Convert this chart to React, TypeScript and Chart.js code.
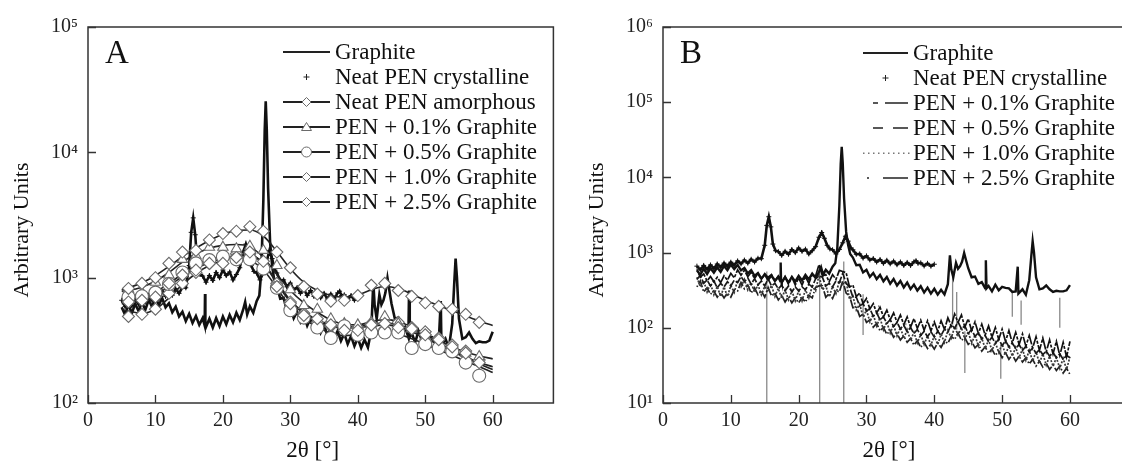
import React, { useEffect, useRef } from 'react';
import { Chart, registerables } from 'chart.js';

Chart.register(...registerables);

const FONT = '"Liberation Serif", "Times New Roman", "DejaVu Serif", serif';

// ---------- axes ----------
const X_TICKS = [0, 10, 20, 30, 40, 50, 60];
const X_TICK_LABELS = ['0', '10', '20', '30', '40', '50', '60'];
const Y_TICKS_A = [100, 1000, 10000, 100000];
const Y_TICK_LABELS_A = ['10²', '10³', '10⁴', '10⁵'];
const Y_TICKS_B = [10, 100, 1000, 10000, 100000, 1000000];
const Y_TICK_LABELS_B = ['10¹', '10²', '10³', '10⁴', '10⁵', '10⁶'];
const X_TITLE = '2θ [°]';
const Y_TITLE = 'Arbitrary Units';

const LABELS_A = ['Graphite', 'Neat PEN crystalline', 'Neat PEN amorphous', 'PEN + 0.1% Graphite', 'PEN + 0.5% Graphite', 'PEN + 1.0% Graphite', 'PEN + 2.5% Graphite'];
const LABELS_B = ['Graphite', 'Neat PEN crystalline', 'PEN + 0.1% Graphite', 'PEN + 0.5% Graphite', 'PEN + 1.0% Graphite', 'PEN + 2.5% Graphite'];

// ---------- raw graphite pattern ----------
const GRAPHITE_X = [5, 5.5, 6, 6.5, 7, 7.5, 8, 8.5, 9, 9.5, 10, 10.5, 11, 11.5, 12, 12.5, 13, 13.5, 14, 14.5, 15, 15.5, 16, 16.5, 17, 17.3, 17.35, 17.4, 17.5, 18, 18.5, 19, 19.5, 20, 20.5, 21, 21.5, 22, 22.5, 23, 23.3, 23.6, 24, 24.5, 25, 25.4, 25.7, 26.0, 26.2, 26.35, 26.5, 26.7, 27.0, 27.3, 27.6, 28, 28.5, 29, 29.5, 30, 30.5, 31, 31.5, 32, 32.5, 33, 33.5, 34, 34.5, 35, 35.5, 36, 36.5, 37, 37.5, 38, 38.5, 39, 39.5, 40, 40.5, 41, 41.5, 42, 42.3, 42.5, 42.8, 43.2, 43.5, 43.8, 44.1, 44.4, 44.7, 45, 45.5, 46, 46.5, 47, 47.5, 47.6, 47.7, 48, 48.5, 49, 49.5, 50, 50.5, 51, 51.5, 52, 52.3, 52.4, 53, 53.5, 54, 54.3, 54.5, 54.7, 55, 55.5, 56, 56.5, 57, 57.5, 58, 58.5, 59, 59.5, 60];
const GRAPHITE_Y = [580, 505, 610, 520, 620, 540, 635, 555, 665, 585, 695, 605, 685, 580, 625, 530, 585, 490, 535, 450, 515, 435, 495, 420, 475, 415, 740, 440, 405, 470, 400, 475, 410, 490, 425, 505, 440, 525, 460, 555, 640, 510, 590, 525, 650, 720, 1150, 4200, 15000, 25500, 15500, 5200, 1900, 1250, 960, 860, 680, 690, 545, 590, 475, 535, 445, 505, 415, 475, 385, 445, 365, 420, 345, 400, 327, 375, 313, 358, 295, 342, 285, 330, 276, 320, 278, 380, 920, 600, 470, 730, 610, 660, 760, 990, 780, 620, 470, 480, 385, 405, 335, 790, 335, 360, 305, 375, 315, 350, 340, 335, 300, 305, 650, 285, 325, 275, 430, 900, 1420, 1000, 470, 325, 335, 365, 325, 300, 310, 305, 305, 315, 370];

// ---------- raw neat PEN crystalline pattern ----------
const CRYST_X = [5, 5.5, 6, 6.5, 7, 7.5, 8, 8.5, 9, 9.5, 10, 10.5, 11, 11.5, 12, 12.5, 13, 13.5, 14, 14.5, 15, 15.3, 15.6, 15.9, 16.2, 16.6, 17, 17.5, 18, 18.5, 19, 19.5, 20, 20.5, 21, 21.5, 22, 22.5, 23, 23.4, 23.8, 24.2, 24.6, 25, 25.5, 26, 26.5, 26.9, 27.3, 27.7, 28, 28.5, 29, 29.5, 30, 30.5, 31, 31.5, 32, 32.5, 33, 33.5, 34, 34.5, 35, 35.5, 36, 36.5, 37, 37.3, 37.6, 38, 38.5, 39, 39.5, 40];
const CRYST_Y = [660, 590, 675, 600, 685, 615, 705, 640, 725, 660, 745, 680, 775, 710, 795, 725, 815, 750, 840, 830, 1250, 2300, 3000, 2200, 1300, 1060, 1030, 920, 1040, 950, 1100, 1000, 1150, 1040, 1110, 960, 1060, 1200, 1600, 1850, 1550, 1250, 1120, 1090, 960, 1100, 1350, 1650, 1420, 1150, 1090, 950, 960, 845, 905, 800, 835, 750, 810, 720, 790, 710, 770, 690, 750, 675, 740, 675, 755, 780, 720, 730, 665, 720, 660, 700];

// ---------- panel A: smoothed amorphous halos + sampled points ----------
const FIT_X = [5, 6, 8, 10, 12, 14, 16, 18, 20, 22, 24, 26, 28, 30, 32, 34, 36, 38, 40, 42, 44, 46, 48, 50, 52, 54, 56, 58, 60];
const FIT_AMORPH = [560, 540, 520, 560, 690, 880, 1080, 1250, 1380, 1480, 1500, 1300, 930, 660, 530, 460, 420, 405, 410, 425, 435, 420, 385, 340, 300, 265, 235, 210, 195];
const FIT_G01 = [780, 790, 840, 940, 1100, 1330, 1550, 1720, 1810, 1840, 1760, 1450, 1060, 790, 630, 530, 460, 425, 420, 445, 465, 445, 405, 355, 315, 280, 255, 238, 225];
const FIT_G05 = [680, 690, 715, 770, 900, 1070, 1260, 1400, 1460, 1450, 1380, 1150, 830, 580, 470, 405, 360, 345, 350, 365, 370, 355, 325, 295, 265, 240, 215, 195, 175];
const FIT_G10 = [620, 630, 650, 720, 860, 1020, 1180, 1320, 1420, 1500, 1520, 1300, 900, 640, 520, 450, 410, 395, 400, 410, 420, 405, 370, 330, 290, 258, 230, 205, 185];
const FIT_G25 = [800, 830, 910, 1040, 1230, 1470, 1720, 1980, 2220, 2380, 2400, 2150, 1620, 1180, 920, 790, 720, 700, 730, 800, 850, 820, 740, 660, 600, 545, 495, 450, 415];

const MARK_X = [6, 8, 10, 12, 14, 16, 18, 20, 22, 24, 26, 28, 30, 32, 34, 36, 38, 40, 42, 44, 46, 48, 50, 52, 54, 56, 58];
const MARK_AMORPH = [490, 510, 560, 750, 900, 1100, 1300, 1400, 1550, 1550, 1250, 900, 640, 520, 440, 410, 380, 400, 430, 390, 440, 400, 370, 330, 290, 260, 220];
const MARK_G01 = [810, 760, 920, 1050, 1400, 1500, 1750, 1750, 1700, 1780, 1650, 1250, 800, 600, 560, 470, 430, 420, 440, 490, 430, 390, 340, 300, 270, 250, 235];
const MARK_G05 = [700, 710, 760, 890, 1100, 1300, 1380, 1470, 1400, 1400, 1180, 830, 550, 480, 400, 330, 410, 350, 365, 365, 365, 275, 295, 275, 258, 210, 165];
const MARK_G10 = [640, 660, 700, 900, 1050, 1150, 1300, 1300, 1450, 1600, 1350, 850, 620, 500, 470, 420, 380, 380, 420, 430, 400, 390, 350, 320, 280, 250, 210];
const MARK_G25 = [820, 900, 1000, 1300, 1600, 1650, 2000, 2250, 2350, 2550, 2350, 1600, 1200, 850, 740, 650, 660, 720, 870, 900, 790, 710, 630, 590, 560, 510, 440];

// ---------- panel B: raw composite patterns ----------
const COMP_X = [5, 5.5, 6, 6.5, 7, 7.5, 8, 8.5, 9, 9.5, 10, 10.5, 11, 11.5, 12, 12.5, 13, 13.5, 14, 14.5, 15, 15.5, 16, 16.5, 17, 17.5, 18, 18.5, 19, 19.5, 20, 20.5, 21, 21.5, 22, 22.5, 23, 23.5, 24, 24.5, 25, 25.5, 26, 26.5, 27, 27.5, 28, 28.5, 29, 29.5, 30, 30.5, 31, 31.5, 32, 32.5, 33, 33.5, 34, 34.5, 35, 35.5, 36, 36.5, 37, 37.5, 38, 38.5, 39, 39.5, 40, 40.5, 41, 41.5, 42, 42.5, 43, 43.5, 44, 44.5, 45, 45.5, 46, 46.5, 47, 47.5, 48, 48.5, 49, 49.5, 50, 50.5, 51, 51.5, 52, 52.5, 53, 53.5, 54, 54.5, 55, 55.5, 56, 56.5, 57, 57.5, 58, 58.5, 59, 59.5, 60];
const COMP_G01 = [600, 470, 520, 420, 480, 410, 470, 400, 490, 430, 530, 460, 590, 500, 580, 480, 550, 450, 530, 440, 520, 470, 510, 420, 490, 390, 480, 380, 470, 370, 460, 370, 480, 390, 510, 490, 690, 490, 510, 410, 510, 440, 580, 560, 540, 350, 370, 260, 290, 210, 245, 178, 210, 158, 188, 140, 172, 128, 158, 118, 148, 110, 140, 102, 133, 98, 126, 93, 124, 91, 120, 90, 124, 95, 136, 106, 152, 118, 148, 102, 132, 92, 120, 84, 112, 80, 106, 75, 101, 70, 96, 66, 92, 63, 87, 60, 83, 57, 79, 54, 76, 50, 73, 48, 69, 45, 66, 43, 64, 41, 66];
const COMP_G05 = [440, 500, 390, 430, 360, 420, 340, 390, 350, 410, 360, 430, 400, 480, 410, 460, 380, 450, 370, 420, 360, 450, 360, 390, 330, 370, 310, 360, 300, 350, 310, 350, 320, 380, 350, 450, 490, 470, 360, 390, 350, 420, 400, 530, 390, 350, 255, 255, 195, 210, 166, 180, 142, 158, 128, 140, 115, 128, 104, 118, 97, 108, 89, 101, 84, 95, 79, 90, 76, 89, 75, 90, 79, 96, 88, 110, 99, 120, 97, 106, 84, 95, 77, 86, 71, 79, 65, 75, 62, 71, 58, 67, 56, 63, 53, 60, 50, 57, 48, 54, 46, 51, 44, 49, 42, 47, 40, 45, 38, 43, 40];
const COMP_G10 = [470, 350, 420, 300, 390, 275, 355, 260, 350, 260, 365, 295, 430, 350, 440, 320, 400, 295, 375, 275, 355, 300, 365, 260, 335, 245, 320, 236, 310, 228, 310, 228, 320, 250, 355, 310, 500, 320, 365, 258, 355, 285, 420, 375, 410, 240, 265, 172, 206, 140, 172, 120, 151, 106, 136, 94, 120, 85, 110, 78, 101, 73, 94, 68, 87, 63, 82, 60, 78, 59, 78, 60, 82, 64, 92, 73, 103, 80, 101, 70, 89, 62, 80, 57, 73, 53, 69, 50, 64, 47, 61, 44, 58, 42, 55, 40, 52, 37, 50, 36, 48, 34, 45, 32, 42, 31, 40, 29, 39, 28, 41];
const COMP_G25 = [350, 420, 300, 340, 280, 310, 255, 295, 250, 290, 255, 320, 310, 400, 330, 370, 290, 340, 275, 310, 255, 345, 265, 290, 235, 270, 220, 260, 215, 250, 215, 250, 220, 270, 250, 345, 360, 360, 255, 285, 245, 315, 300, 420, 290, 265, 185, 190, 142, 152, 118, 128, 102, 114, 91, 101, 82, 92, 75, 84, 69, 78, 64, 72, 59, 67, 55, 64, 53, 61, 52, 63, 55, 67, 62, 77, 70, 86, 68, 74, 60, 66, 54, 60, 49, 56, 46, 52, 43, 49, 40, 47, 38, 44, 36, 42, 35, 40, 33, 38, 31, 36, 30, 34, 28, 32, 27, 31, 25, 29, 24];

// drop-outs / spikes in panel B (x, upper value, lower value)
const SPIKE_B_X = [15.3, 23.1, 26.65, 29.5, 42.7, 43.3, 51.5, 52.8, 58.5, 44.5, 49.8];
const SPIKE_B_TOP = [560, 640, 760, 280, 480, 300, 300, 230, 250, 90, 60];
const SPIKE_B_BOTTOM = [1, 1, 1, 80, 110, 95, 140, 110, 100, 25, 21];
const DOT_B_X = [31.8, 35.8];
const DOT_B_TOP = [200, 130];
const DOT_B_BOTTOM = [150, 95];

// ---------- helpers ----------
const pts = (xs: number[], ys: number[]) => xs.map((x, i) => ({ x, y: ys[i] }));
const segs = (xs: number[], top: number[], bot: number[]) => {
  const out: { x: number; y: number | null }[] = [];
  xs.forEach((x, i) => {
    out.push({ x, y: top[i] }, { x, y: bot[i] }, { x, y: null });
  });
  return out;
};

const raw = (label: string, data: any, color: string, width: number, extra: any = {}) => ({
  label, data, borderColor: color, backgroundColor: color, borderWidth: width,
  pointRadius: 0, tension: 0, fill: false, ...extra,
});

const fit = (label: string, ys: number[]) => ({
  label, data: pts(FIT_X, ys), borderColor: '#222', borderWidth: 1.6, pointRadius: 0,
  cubicInterpolationMode: 'monotone', fill: false,
});

const marks = (label: string, ys: number[], style: string, r: number) => ({
  label, data: pts(MARK_X, ys), showLine: false, pointStyle: style, pointRadius: r,
  pointBorderColor: '#6a6a6a', pointBackgroundColor: '#ffffff', pointBorderWidth: 1.1,
  borderColor: '#6a6a6a', backgroundColor: '#ffffff',
});

const crystal = (label: string) => raw(label, pts(CRYST_X, CRYST_Y), '#111', 2.6, {
  pointRadius: 2.5, pointStyle: 'cross', pointBorderWidth: 1, pointBorderColor: '#111',
});

// ---------- legend / frame plugin ----------
type LegendKind = { kind: string; dash?: number[][]; marker?: string };

function drawMarker(ctx: CanvasRenderingContext2D, kind: string, cx: number, cy: number) {
  ctx.save();
  ctx.fillStyle = '#fff';
  ctx.strokeStyle = '#6a6a6a';
  ctx.lineWidth = 1;
  ctx.beginPath();
  if (kind === 'diamond') {
    ctx.moveTo(cx, cy - 4.5); ctx.lineTo(cx + 4.5, cy); ctx.lineTo(cx, cy + 4.5); ctx.lineTo(cx - 4.5, cy); ctx.closePath();
  } else if (kind === 'triangle') {
    ctx.moveTo(cx, cy - 4.5); ctx.lineTo(cx + 5, cy + 3.5); ctx.lineTo(cx - 5, cy + 3.5); ctx.closePath();
  } else {
    ctx.arc(cx, cy, 5, 0, Math.PI * 2);
  }
  ctx.fill();
  ctx.stroke();
  ctx.restore();
}

function makePlugin(cfg: any) {
  return {
    id: 'panelDecor' + cfg.letter,
    afterDatasetsDraw(chart: any) {
      const { ctx, chartArea } = chart;
      const { left, right, top, bottom } = chartArea;
      const xs = chart.scales.x;
      const ys = chart.scales.y;
      ctx.save();
      ctx.strokeStyle = '#333';
      ctx.lineWidth = 1.5;
      ctx.strokeRect(left, top, right - left, bottom - top);
      ctx.lineWidth = 1.3;
      ctx.beginPath();
      X_TICKS.forEach((v) => {
        const px = Math.round(xs.getPixelForValue(v)) + 0.5;
        ctx.moveTo(px, bottom);
        ctx.lineTo(px, bottom - 8);
      });
      cfg.yTicks.forEach((v: number) => {
        const py = Math.round(ys.getPixelForValue(v)) + 0.5;
        ctx.moveTo(left, py);
        ctx.lineTo(left + 8, py);
      });
      ctx.stroke();
      ctx.restore();
    },
    afterDraw(chart: any) {
      const { ctx, chartArea } = chart;
      ctx.save();
      ctx.fillStyle = '#111';
      ctx.font = `33px ${FONT}`;
      ctx.textAlign = 'left';
      ctx.textBaseline = 'alphabetic';
      ctx.fillText(cfg.letter, chartArea.left + 17, 63);
      ctx.font = `23px ${FONT}`;
      ctx.textAlign = 'center';
      ctx.textBaseline = 'middle';
      ctx.fillText(X_TITLE, (chartArea.left + chartArea.right) / 2 - 8, 451);
      ctx.save();
      ctx.translate(22, 230);
      ctx.rotate(-Math.PI / 2);
      ctx.font = `22px ${FONT}`;
      ctx.fillText(Y_TITLE, 0, 0);
      ctx.restore();
      ctx.font = `23px ${FONT}`;
      ctx.textAlign = 'left';
      ctx.textBaseline = 'middle';
      cfg.labels.forEach((label: string, i: number) => {
        const y = cfg.legY + 25 * i;
        const item: LegendKind = cfg.legend[i];
        const x0 = cfg.legX0;
        const x1 = cfg.legX1;
        const cx = (x0 + x1) / 2;
        ctx.save();
        ctx.strokeStyle = item.kind === 'dots' ? '#666' : '#222';
        ctx.lineWidth = item.kind === 'line' ? 2 : 1.5;
        if (item.kind === 'cross') {
          ctx.lineWidth = 1;
          ctx.beginPath();
          ctx.moveTo(cx - 3, y); ctx.lineTo(cx + 3, y);
          ctx.moveTo(cx, y - 3); ctx.lineTo(cx, y + 3);
          ctx.stroke();
        } else if (item.kind === 'dots') {
          ctx.fillStyle = '#777';
          for (let xx = x0; xx <= x1; xx += 5) ctx.fillRect(xx, y - 0.5, 1.5, 1.5);
        } else if (item.dash) {
          ctx.beginPath();
          item.dash.forEach(([a, b]) => { ctx.moveTo(x0 + a, y); ctx.lineTo(x0 + b, y); });
          ctx.stroke();
        } else {
          ctx.beginPath();
          ctx.moveTo(x0, y); ctx.lineTo(x1, y);
          ctx.stroke();
        }
        ctx.restore();
        if (item.marker) drawMarker(ctx, item.marker, cx, y);
        ctx.fillStyle = '#111';
        ctx.fillText(label, cfg.textX, y + 1);
      });
      ctx.restore();
    },
  };
}

function makeScales(yMin: number, yMax: number, yTicks: number[], yLabels: string[]) {
  const tickFont = { family: FONT, size: 20 };
  return {
    x: {
      type: 'linear', min: 0, max: 69,
      grid: { display: false, drawTicks: false },
      border: { display: false },
      afterBuildTicks: (s: any) => { s.ticks = X_TICKS.map((v) => ({ value: v })); },
      afterFit: (s: any) => { s.height = 58; },
      ticks: { autoSkip: false, maxRotation: 0, padding: 6, color: '#222', font: tickFont,
        callback: (_v: any, i: number) => X_TICK_LABELS[i] },
    },
    y: {
      type: 'logarithmic', min: yMin, max: yMax,
      grid: { display: false, drawTicks: false },
      border: { display: false },
      afterBuildTicks: (s: any) => { s.ticks = yTicks.map((v) => ({ value: v })); },
      afterFit: (s: any) => { s.width = 88; },
      ticks: { autoSkip: false, padding: 10, color: '#222', font: tickFont,
        callback: (_v: any, i: number) => yLabels[i] },
    },
  };
}

function buildA() {
  const datasets: any[] = [
    marks(LABELS_A[6], MARK_G25, 'rectRot', 6),
    marks(LABELS_A[5], MARK_G10, 'rectRot', 6),
    marks(LABELS_A[4], MARK_G05, 'circle', 6.5),
    marks(LABELS_A[3], MARK_G01, 'triangle', 6),
    marks(LABELS_A[2], MARK_AMORPH, 'rectRot', 6),
    fit(LABELS_A[6], FIT_G25),
    fit(LABELS_A[5], FIT_G10),
    fit(LABELS_A[4], FIT_G05),
    fit(LABELS_A[3], FIT_G01),
    fit(LABELS_A[2], FIT_AMORPH),
    crystal(LABELS_A[1]),
    raw(LABELS_A[0], pts(GRAPHITE_X, GRAPHITE_Y), '#111', 2.6),
  ];
  const cfg = {
    letter: 'A', yTicks: Y_TICKS_A, labels: LABELS_A,
    legX0: 283, legX1: 330, textX: 335, legY: 52,
    legend: [
      { kind: 'line' }, { kind: 'cross' },
      { kind: 'line', marker: 'diamond' }, { kind: 'line', marker: 'triangle' },
      { kind: 'line', marker: 'circle' }, { kind: 'line', marker: 'diamond' },
      { kind: 'line', marker: 'diamond' },
    ],
  };
  return { datasets, cfg, scales: makeScales(100, 100000, Y_TICKS_A, Y_TICK_LABELS_A) };
}

function buildB() {
  const datasets: any[] = [
    raw(LABELS_B[0], pts(GRAPHITE_X, GRAPHITE_Y), '#111', 2.4),
    crystal(LABELS_B[1]),
    raw(LABELS_B[2], pts(COMP_X, COMP_G01), '#111', 1.7, { borderDash: [3, 1.5, 12, 1.5] }),
    raw(LABELS_B[3], pts(COMP_X, COMP_G05), '#1a1a1a', 1.7, { borderDash: [8, 2] }),
    raw(LABELS_B[4], pts(COMP_X, COMP_G10), '#3a3a3a', 1.7, { borderDash: [2, 1.5] }),
    raw(LABELS_B[5], pts(COMP_X, COMP_G25), '#222', 1.7, { borderDash: [1.5, 2, 10, 2] }),
    raw('drop-outs', segs(SPIKE_B_X, SPIKE_B_TOP, SPIKE_B_BOTTOM), '#8a8a8a', 1.3),
    raw('drop-outs dotted', segs(DOT_B_X, DOT_B_TOP, DOT_B_BOTTOM), '#8a8a8a', 1.3, { borderDash: [2, 2] }),
  ];
  const cfg = {
    letter: 'B', yTicks: Y_TICKS_B, labels: LABELS_B,
    legX0: 288, legX1: 333, textX: 338, legY: 53,
    legend: [
      { kind: 'line' }, { kind: 'cross' },
      { kind: 'dash', dash: [[10, 15], [22, 45]] },
      { kind: 'dash', dash: [[10, 20], [30, 45]] },
      { kind: 'dots' },
      { kind: 'dash', dash: [[4, 6], [20, 45]] },
    ],
  };
  return { datasets, cfg, scales: makeScales(10, 1000000, Y_TICKS_B, Y_TICK_LABELS_B) };
}

function Panel({ which, left }: { which: 'A' | 'B'; left: number }) {
  const ref = useRef<HTMLCanvasElement | null>(null);
  useEffect(() => {
    if (!ref.current) return;
    const built = which === 'A' ? buildA() : buildB();
    const chart = new Chart(ref.current, {
      type: 'line',
      data: { datasets: built.datasets },
      options: {
        responsive: false,
        animation: false,
        devicePixelRatio: 1,
        layout: { padding: { left: 0, right: 4, top: 27, bottom: 0 } },
        scales: built.scales as any,
        plugins: { legend: { display: false }, tooltip: { enabled: false }, title: { display: false } },
      },
      plugins: [makePlugin(built.cfg)],
    } as any);
    return () => chart.destroy();
  }, [which]);
  return (
    <canvas
      ref={ref}
      width={561}
      height={461}
      style={{ position: 'absolute', left, top: 0, width: 561, height: 461 }}
    />
  );
}

export default function App() {
  return (
    <div style={{ position: 'fixed', left: 0, top: 0, width: 1122, height: 461, overflow: 'hidden', background: '#fff' }}>
      <Panel which="A" left={0} />
      <Panel which="B" left={575} />
    </div>
  );
}
